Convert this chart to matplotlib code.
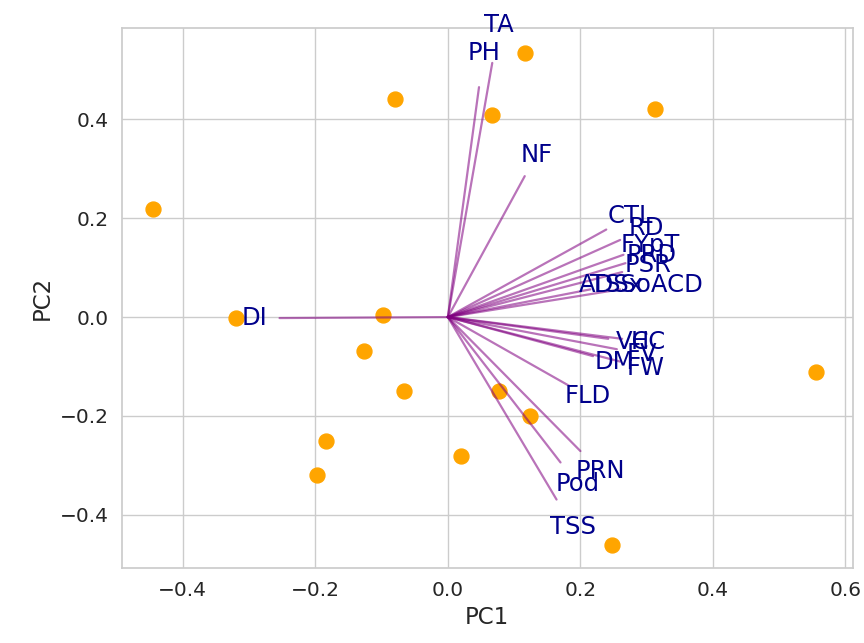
import matplotlib
matplotlib.use("Agg")
import matplotlib.pyplot as plt
import seaborn as sns
import numpy as np

sns.set_theme(style="whitegrid")
plt.rcParams['font.family'] = ['DejaVu Sans']

# PCA scores (samples)
pc1_scores = [-0.445, -0.320, -0.080, 0.116, 0.066, 0.312, -0.098, -0.127,
              -0.066, -0.184, -0.198, 0.020, 0.077, 0.124, 0.248, 0.555]
pc2_scores = [0.218, -0.002, 0.442, 0.535, 0.408, 0.420, 0.004, -0.069,
              -0.149, -0.251, -0.319, -0.281, -0.149, -0.200, -0.461, -0.111]

# Variable loadings
variables = ["TA", "PH", "NF", "DI", "CTL", "RD", "FYpT", "PRD", "PSR",
             "TSSoACD", "ADSx", "VC", "HC", "FV", "DM", "FW", "FLD",
             "PRN", "Pod", "TSS"]
load_pc1 = [0.067, 0.047, 0.116, -0.254, 0.239, 0.260, 0.265, 0.268, 0.263,
            0.260, 0.215, 0.242, 0.263, 0.255, 0.219, 0.260, 0.183,
            0.200, 0.170, 0.164]
load_pc2 = [0.514, 0.465, 0.285, -0.002, 0.177, 0.156, 0.126, 0.109, 0.091,
            0.056, 0.056, -0.044, -0.044, -0.065, -0.079, -0.090, -0.139,
            -0.271, -0.294, -0.369]

fig = plt.figure(figsize=(8.64, 6.43), dpi=100)
ax = fig.add_axes([0.141, 0.117, 0.846, 0.839])

ax.scatter(pc1_scores, pc2_scores, color="orange", s=115, zorder=2)

for name, lx, ly in zip(variables, load_pc1, load_pc2):
    ax.plot([0, lx], [0, ly], color="purple", alpha=0.55, lw=1.6, zorder=3)
    ax.text(lx * 1.15, ly * 1.15, name, color="darkblue", ha="center",
            va="center", fontsize=17.5, zorder=4)

ax.set_xlim(-0.492, 0.611)
ax.set_ylim(-0.507, 0.584)
ax.set_xticks([-0.4, -0.2, 0.0, 0.2, 0.4, 0.6])
ax.set_yticks([-0.4, -0.2, 0.0, 0.2, 0.4])
ax.tick_params(labelsize=14.5)
ax.set_xlabel("PC1", fontsize=16.5)
ax.set_ylabel("PC2", fontsize=16.5)

fig.savefig("out.png", dpi=100)
